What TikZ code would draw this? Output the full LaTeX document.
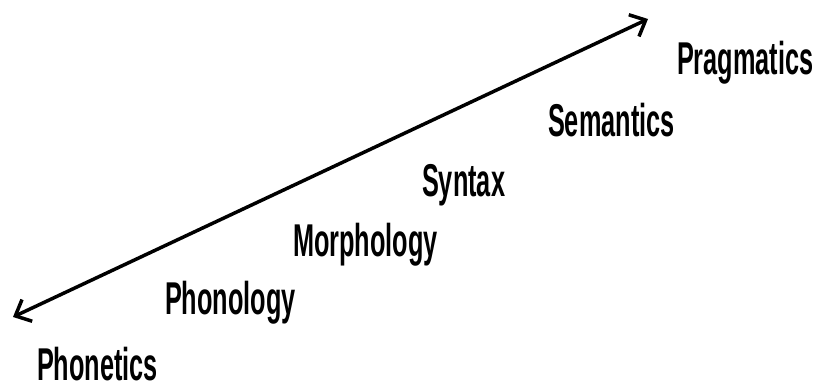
\documentclass[tikz,border=0pt]{standalone}
\usepackage{fontspec}
\setmainfont{Liberation Sans}
\usepackage{tikz}
\usetikzlibrary{arrows.meta}

\begin{document}
\begin{tikzpicture}[x=1pt, y=1pt,
    level/.style={anchor=base west, inner sep=0pt, font=\fontsize{46}{46}\selectfont\bfseries, xscale=0.55, transform shape},
    barb/.tip={Straight Barb[length=13pt, width=24pt]}]
    \useasboundingbox (0,0) rectangle (821,387);

    % Scale arrow
    \coordinate (low) at (13,70);
    \coordinate (high) at (648,368);
    \draw[line width=3.5pt, {barb}-{barb}] (low) -- (high);

    % Levels of analysis
    \foreach \lvl/\x/\y in {Phonetics/37/6, Phonology/165/72, Morphology/293/130,
                             Syntax/422/190, Semantics/548/250, Pragmatics/677/312}
        \node[level] (\lvl) at (\x,\y) {\lvl};
\end{tikzpicture}
\end{document}
